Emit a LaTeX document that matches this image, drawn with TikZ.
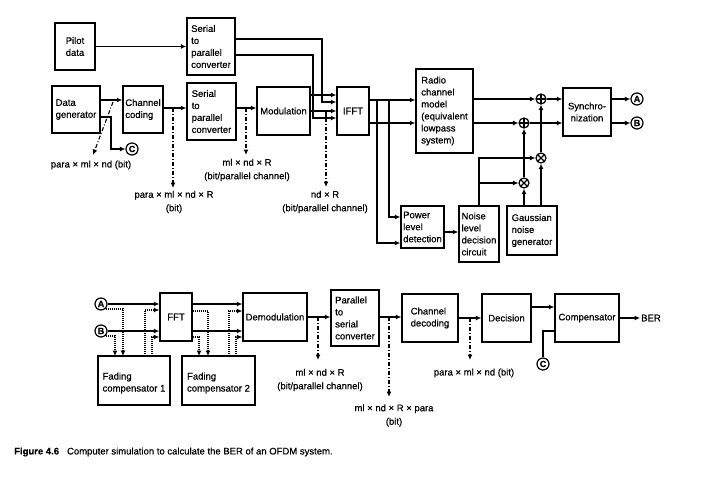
\documentclass[tikz,border=0pt]{standalone}
\usepackage{fontspec}
\setmainfont{Liberation Sans}[FakeBold=0.5]
\usetikzlibrary{arrows.meta}
\newcommand{\fsz}{\fontsize{9.5}{12}\selectfont}
\begin{document}
\begin{tikzpicture}[x=1pt,y=-1pt,
  box/.style={draw, line width=1.3pt, inner sep=2pt, align=left, font=\fsz},
  arr/.style={-{Latex[length=5.5pt,width=5pt]}, line width=1.1pt},
  ln/.style={line width=1.1pt},
  dd/.style={dash pattern=on 4pt off 2pt on 1pt off 2pt, line width=1.1pt},
  dt/.style={dash pattern=on 1pt off 1pt, line width=1.1pt},
  lbl/.style={align=center, font=\fontsize{9.5}{13.5}\selectfont, inner sep=0pt},
  lettc/.style={draw, circle, line width=1.2pt, inner sep=0pt, minimum size=12pt, font=\fontsize{9}{9}\selectfont\bfseries},
  sumn/.style={draw, circle, line width=1.2pt, inner sep=0pt, minimum size=10pt,
    path picture={\draw[line width=1.1pt] (path picture bounding box.north) -- (path picture bounding box.south) (path picture bounding box.west) -- (path picture bounding box.east);}},
  muln/.style={draw, circle, line width=1.2pt, inner sep=0pt, minimum size=10pt,
    path picture={\draw[line width=1.1pt] (path picture bounding box.north west) -- (path picture bounding box.south east) (path picture bounding box.south west) -- (path picture bounding box.north east);}}
]
\useasboundingbox[fill=white] (0,0) rectangle (720,482);

% ---------- upper chain ----------
\node[box, minimum width=40pt, minimum height=47pt, align=center] (pilot) at (75,46.5) {Pilot\\data};
\node[box, minimum width=48pt, minimum height=57pt] (sp1) at (211,46.5) {Serial\\to\\parallel\\converter};
\node[box, minimum width=48pt, minimum height=47pt] (dg) at (76,109.5) {Data\\generator};
\node[box, minimum width=40pt, minimum height=47pt] (cc) at (143,109.5) {Channel\\coding};
\node[box, minimum width=49pt, minimum height=57pt] (sp2) at (211.5,111.5) {Serial\\to\\parallel\\converter};
\node[box, minimum width=53pt, minimum height=48pt, align=center] (mod) at (283.5,111) {Modulation};
\node[box, minimum width=32pt, minimum height=48pt, align=center] (ifft) at (353,111) {IFFT};
\node[box, minimum width=57pt, minimum height=84pt] (radio) at (444.5,111) {Radio\\channel\\model\\(equivalent\\lowpass\\system)};
\node[box, minimum width=48pt, minimum height=48pt, align=center] (sync) at (587,112) {Synchro-\\nization};
\node[box, minimum width=43pt, minimum height=42pt] (power) at (422.5,227) {Power\\level\\detection};
\node[box, minimum width=40pt, minimum height=56pt] (noise) at (479,234) {Noise\\level\\decision\\circuit};
\node[box, minimum width=50pt, minimum height=49pt] (gauss) at (532,230.5) {Gaussian\\noise\\generator};

\node[lettc] (ctop) at (132,149) {C};
\node[lettc] (a1) at (637,99) {A};
\node[lettc] (b1) at (637,123) {B};
\node[sumn] (plus1) at (541,99) {};
\node[sumn] (plus2) at (524,123) {};
\node[muln] (times1) at (541,158) {};
\node[muln] (times2) at (524,183) {};

\draw[arr] (pilot.east) -- (sp1.west);
\draw[arr] (sp1.east |- 0,39) -- (322,39) -- (322,102) -- (ifft.west |- 0,102);
\draw[arr] (sp1.east |- 0,55) -- (313,55) -- (313,118) -- (ifft.west |- 0,118);
\draw[arr] (mod.east |- 0,95) -- (ifft.west |- 0,95);
\draw[arr] (mod.east |- 0,111) -- (ifft.west |- 0,111);
\draw[ln] (326,111) -- (326,118);
\draw[dd, arr] (326,118) -- (326,187);

\draw[arr] (dg.east |- 0,100) -- (cc.west |- 0,100);
\draw[arr] (dg.east |- 0,117) -- (111,117) -- (111,149) -- (ctop.west);
\draw[dd, arr] (113,102) -- (93,155);
\draw[arr] (cc.east |- 0,108) -- (sp2.west |- 0,108);
\draw[dd, arr] (173,108) -- (173,188);
\draw[arr] (sp2.east |- 0,108) -- (mod.west |- 0,108);
\draw[dd, arr] (246,108) -- (246,155);

\draw[arr] (ifft.east |- 0,100) -- (radio.west |- 0,100);
\draw[arr] (ifft.east |- 0,123) -- (radio.west |- 0,123);
\draw[arr] (377,100) -- (377,243) -- (power.west |- 0,243);
\draw[arr] (389,100) -- (389,217) -- (power.west |- 0,217);

\draw[arr] (radio.east |- plus1) -- (plus1);
\draw[arr] (radio.east |- plus2) -- (plus2);
\draw[arr] (plus1) -- (sync.west |- plus1);
\draw[arr] (plus2) -- (sync.west |- plus2);
\draw[arr] (sync.east |- a1) -- (a1);
\draw[arr] (sync.east |- b1) -- (b1);
\draw[arr] (times1) -- (plus1);
\draw[arr] (times2) -- (plus2);
\draw[arr] (noise.north) |- (times1);
\draw[arr] (noise.north |- times2) -- (times2);
\draw[arr] (gauss.north -| times2) -- (times2);
\draw[arr] (gauss.north -| times1) -- (times1);
\draw[arr] (power.east |- 0,232) -- (noise.west |- 0,232);

\node[lbl] (l1) at (91,165) {para × ml × nd (bit)};
\node[lbl] (l2) at (174,202) {para × ml × nd × R\\(bit)};
\node[lbl] (l3) at (247,170) {ml × nd × R\\(bit/parallel channel)};
\node[lbl] (l4) at (325,202) {nd × R\\(bit/parallel channel)};

% ---------- lower chain ----------
\node[box, minimum width=32pt, minimum height=48pt, align=center] (fft) at (176,317) {FFT};
\node[box, minimum width=64pt, minimum height=48pt, align=center] (demod) at (275,317) {Demodulation};
\node[box, minimum width=72pt, minimum height=49pt] (fc1) at (134,380.5) {\\Fading\\compensator 1};
\node[box, minimum width=73pt, minimum height=49pt] (fc2) at (218.5,380.5) {\\Fading\\compensator 2};
\node[box, minimum width=48pt, minimum height=56pt] (ps) at (355,318) {Parallel\\to\\serial\\converter};
\node[box, minimum width=56pt, minimum height=48pt] (cd) at (430,318) {Channel\\decoding};
\node[box, minimum width=49pt, minimum height=48pt, align=center] (dec) at (506.5,318) {Decision};
\node[box, minimum width=64pt, minimum height=48pt, align=center] (comp) at (587,318) {Compensator};
\node[font=\fsz, inner sep=1pt] (ber) at (651,318) {BER};

\node[lettc] (a2) at (101,304) {A};
\node[lettc] (b2) at (101,331) {B};
\node[lettc] (cbot) at (543,364) {C};

\draw[arr] (a2.east) -- (fft.west |- a2);
\draw[dt, arr] (106,309) -- (123,309) -- (123,356);
\draw[arr] (b2.east) -- (fft.west |- b2);
\draw[dt, arr] (106,336) -- (115,336) -- (115,356);
\draw[dt, arr] (145,356) -- (145,310) -- (fft.west |- 0,310);
\draw[dt, arr] (152,356) -- (152,337) -- (fft.west |- 0,337);

\draw[arr] (fft.east |- 0,304) -- (demod.west |- 0,304);
\draw[arr] (fft.east |- 0,331) -- (demod.west |- 0,331);
\draw[dt, arr] (fft.east |- 0,311) -- (208,311) -- (208,356);
\draw[dt, arr] (fft.east |- 0,337) -- (199,337) -- (199,356);
\draw[dt, arr] (229,356) -- (229,311) -- (demod.west |- 0,311);
\draw[dt, arr] (236,356) -- (236,337) -- (demod.west |- 0,337);

\draw[arr] (demod.east |- 0,317) -- (ps.west |- 0,317);
\draw[dd, arr] (318,317) -- (318,360);
\draw[arr] (ps.east |- 0,317) -- (cd.west |- 0,317);
\draw[dd, arr] (389,317) -- (389,397);
\draw[arr] (cd.east |- 0,318) -- (dec.west |- 0,318);
\draw[dd, arr] (470,318) -- (470,360);
\draw[arr] (dec.east |- 0,307) -- (comp.west |- 0,307);
\draw[ln] (cbot.north) -- (543,331) -- (comp.west |- 0,331);
\draw[arr] (comp.east) -- (ber.west);

\node[lbl] (l5) at (320,380) {ml × nd × R\\(bit/parallel channel)};
\node[lbl] (l6) at (394,415.5) {ml × nd × R × para\\(bit)};
\node[lbl] (l7) at (474,373) {para × ml × nd (bit)};

\node[anchor=west, inner sep=0pt, font=\fontsize{9.5}{12}\selectfont] (cap) at (14,452)
  {\textbf{Figure 4.6}\hspace{8pt}Computer simulation to calculate the BER of an OFDM system.};
\end{tikzpicture}
\end{document}
